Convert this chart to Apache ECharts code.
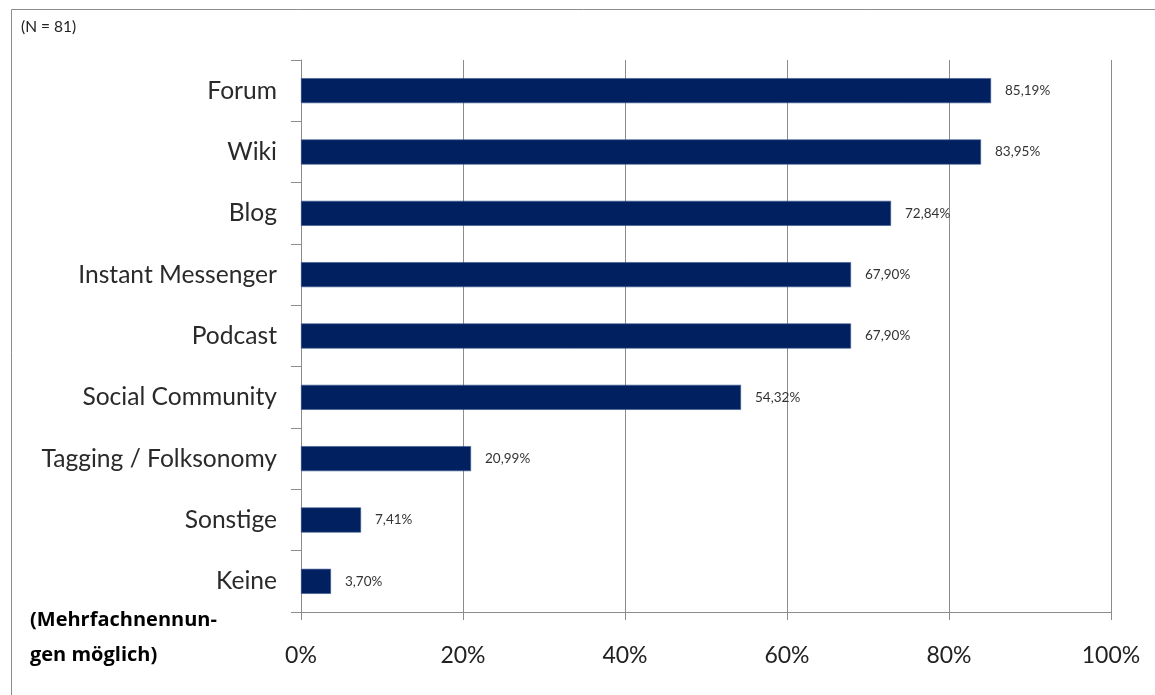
<!DOCTYPE html>
<html><head><meta charset="utf-8">
<script src="https://cdn.jsdelivr.net/npm/echarts@6/dist/echarts.min.js"></script>
<style>html,body{margin:0;padding:0;background:#fff}#c{width:1155px;height:695px}</style>
</head><body><div id="c"></div>
<script>
const categories = ["Forum","Wiki","Blog","Instant Messenger","Podcast","Social Community","Tagging / Folksonomy","Sonstige","Keine"];
const values = [85.19,83.95,72.84,67.90,67.90,54.32,20.99,7.41,3.70];
const xTicks = [0,20,40,60,80,100];
const noteTop = "(N = 81)";
const noteBottom = "(Mehrfachnennun-\ngen möglich)";

const chart = echarts.init(document.getElementById('c'), null, {renderer:'canvas'});
const fmt = v => v.toFixed(2).replace('.', ',') + '%';
chart.setOption({
  animation:false,
  backgroundColor:'#fff',
  grid:{left:301, right:44, top:60, bottom:83, containLabel:false},
  xAxis:{type:'value', min:xTicks[0], max:xTicks[xTicks.length-1], interval:20,
    axisLine:{show:true, lineStyle:{color:'#8c8c8c'}},
    axisTick:{show:true, length:8, lineStyle:{color:'#8c8c8c'}},
    splitLine:{show:true, lineStyle:{color:'#8c8c8c', width:1}},
    axisLabel:{formatter:v=>v+'%', fontFamily:'Lato', fontSize:23, color:'#222', margin:32}
  },
  yAxis:{type:'category', data:categories, inverse:true,
    axisLine:{show:true, lineStyle:{color:'#8c8c8c'}},
    axisTick:{show:true, length:10, lineStyle:{color:'#8c8c8c'}},
    axisLabel:{fontFamily:'Lato', fontSize:24.6, color:'#2a2a2a', margin:24, padding:[3,0,0,0]}
  },
  series:[{type:'bar', data:values, barWidth:25,
    itemStyle:{color:'#002060', borderColor:'#3a5590', borderWidth:0.6},
    label:{show:true, position:'right', distance:14, formatter:p=>fmt(p.value),
      fontFamily:'Lato', fontSize:13.5, color:'#333'}
  }],
  graphic:[
    {type:'line', shape:{x1:11.5,y1:9.5,x2:1155,y2:9.5}, style:{stroke:'#8c8c8c', lineWidth:1}},
    {type:'line', shape:{x1:11.5,y1:9.5,x2:11.5,y2:695}, style:{stroke:'#8c8c8c', lineWidth:1}},
    {type:'text', left:21, top:19, style:{text:noteTop, font:'15.5px Lato', fill:'#222'}},
    {type:'text', left:30, top:603, style:{text:noteBottom, font:'bold 20px "Open Sans"', fill:'#000', lineHeight:35}}
  ]
});
</script></body></html>
